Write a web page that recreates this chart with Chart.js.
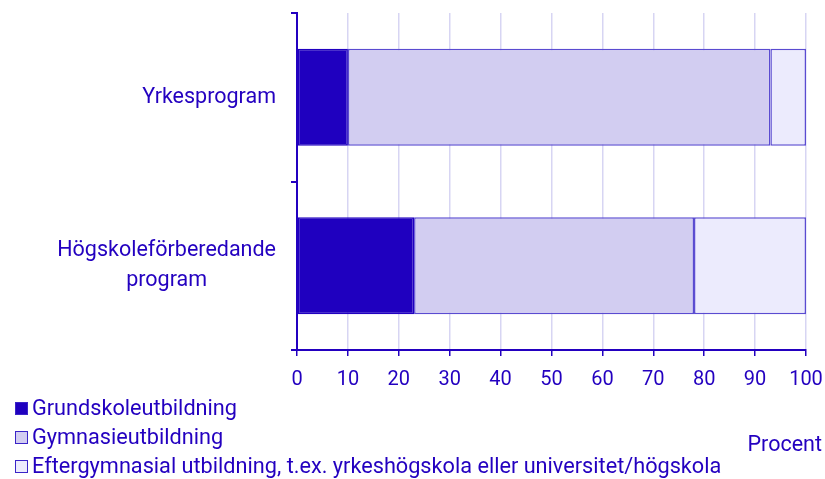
<!DOCTYPE html>
<html>
<head>
<meta charset="utf-8">
<script src="https://cdn.jsdelivr.net/npm/chart.js@4/dist/chart.umd.min.js"></script>
<style>
  body { margin: 0; background: #fff; font-family: Roboto, sans-serif; }
  #wrap { position: relative; width: 825px; height: 479px; }
  #legend { position: absolute; left: 15px; top: 393px; color: #2300c0; font-size: 21.7px; }
  #legend div { height: 29px; line-height: 29px; white-space: nowrap; }
  #legend span.box { display: inline-block; width: 11px; height: 11px; border: 1px solid #3a24c8; margin-right: 4px; vertical-align: 0px; }
</style>
</head>
<body>
<div id="wrap">
  <canvas id="chart" width="825" height="479"></canvas>
  <div id="legend"></div>
</div>
<script>
const categories = [['Yrkesprogram'], ['Högskoleförberedande', 'program']]
const seriesNames = [
  'Grundskoleutbildning',
  'Gymnasieutbildning',
  'Eftergymnasial utbildning, t.ex. yrkeshögskola eller universitet/högskola'
]
const grundskola = [10, 23]
const gymnasium = [83, 55]
const eftergymnasial = [7, 22]
const xTicks = [0, 10, 20, 30, 40, 50, 60, 70, 80, 90, 100]
const xTitle = 'Procent'

const textColor = '#2300c0'
const fills = ['#1f00bf', '#d2cdf1', '#ecebfd']
const borders = ['#2000c0', '#5a4bd1', '#5a4bd1']

Chart.defaults.font.family = 'Roboto, sans-serif'
Chart.defaults.font.size = 20
Chart.defaults.color = textColor

// category labels: block right aligned, lines centred inside the block
// plus the axis title that hangs past the end of the x axis
const categoryLabels = {
  id: 'categoryLabels',
  afterDraw(chart) {
    const ctx = chart.ctx
    const y = chart.scales.y
    ctx.save()
    ctx.font = '21.5px Roboto, sans-serif'
    ctx.fillStyle = textColor
    ctx.textAlign = 'center'
    ctx.textBaseline = 'middle'
    const lineH = 30
    categories.forEach((lines, i) => {
      const w = Math.max(...lines.map(l => ctx.measureText(l).width))
      const cx = 276 - w / 2
      const cy = y.getPixelForValue(i)
      const start = cy - (lines.length - 1) * lineH / 2
      lines.forEach((l, j) => ctx.fillText(l, cx, start + j * lineH))
    })
    ctx.textAlign = 'right'
    ctx.fillText(xTitle, 822, 446)
    ctx.restore()
  }
}

const data = {
  labels: categories.map(c => c.join(' ')),
  datasets: [grundskola, gymnasium, eftergymnasial].map((values, i) => ({
    label: seriesNames[i],
    data: values,
    backgroundColor: fills[i],
    borderColor: borders[i],
    borderWidth: 1.5,
    borderSkipped: false,
    barPercentage: 0.575,
    categoryPercentage: 1
  }))
}

new Chart(document.getElementById('chart'), {
  type: 'bar',
  data,
  plugins: [categoryLabels],
  options: {
    indexAxis: 'y',
    responsive: false,
    animation: false,
    layout: {padding: {top: 13, right: 19, left: 0, bottom: 0}},
    plugins: {legend: {display: false}, tooltip: {enabled: false}},
    scales: {
      x: {
        stacked: true,
        min: 0,
        max: 100,
        afterBuildTicks(scale) {
          scale.ticks = xTicks.map(v => ({value: v}))
        },
        afterFit(scale) {
          scale.height = 129
          scale.paddingLeft = 0
          scale.paddingRight = 0
        },
        ticks: {color: textColor, padding: 12, maxRotation: 0},
        grid: {color: '#d7d5f3', lineWidth: 1.5, tickColor: textColor, tickLength: 6},
        border: {color: textColor, width: 2}
      },
      y: {
        stacked: true,
        ticks: {display: false},
        afterFit(scale) { scale.width = 297 },
        grid: {drawOnChartArea: false, offset: true, tickColor: textColor, tickLength: 6, lineWidth: 2},
        border: {color: textColor, width: 2}
      }
    }
  }
})

const legend = document.getElementById('legend')
seriesNames.forEach((name, i) => {
  const row = document.createElement('div')
  const box = document.createElement('span')
  box.className = 'box'
  box.style.background = fills[i]
  row.appendChild(box)
  row.appendChild(document.createTextNode(name))
  legend.appendChild(row)
})
</script>
</body>
</html>
